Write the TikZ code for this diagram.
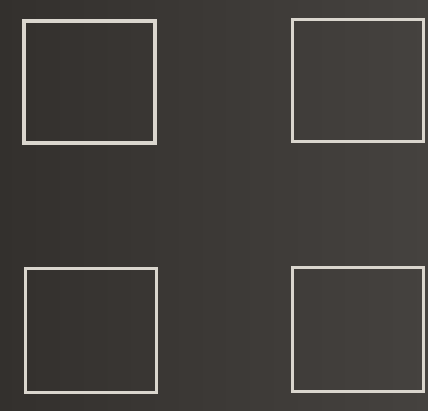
\documentclass[tikz,border=0pt]{standalone}
\usepackage{tikz}
\usetikzlibrary{positioning}

\definecolor{boardbg}{HTML}{33302D}
\definecolor{boardbgr}{HTML}{45423F}
\definecolor{chalk}{HTML}{DAD6CE}

\begin{document}
\begin{tikzpicture}[
      x=1pt, y=-1pt,
      square/.style={rectangle, draw=chalk, line width=3.4pt, minimum width=131pt, minimum height=122pt, inner sep=0pt}
    ]
      % Background
      \shade[left color=boardbg, right color=boardbgr] (0,0) rectangle (428,410);
      \useasboundingbox (0,0) rectangle (428,410);

      % Top row
      \node[square] (tl) at (89.5,82) {};
      \node[square] (tr) at (358,80.5) {};

      % Bottom row
      \node[square, minimum height=124pt] (bl) at (91,330.5) {};
      \node[square, minimum height=124pt] (br) at (358,329.5) {};
    \end{tikzpicture}
\end{document}
